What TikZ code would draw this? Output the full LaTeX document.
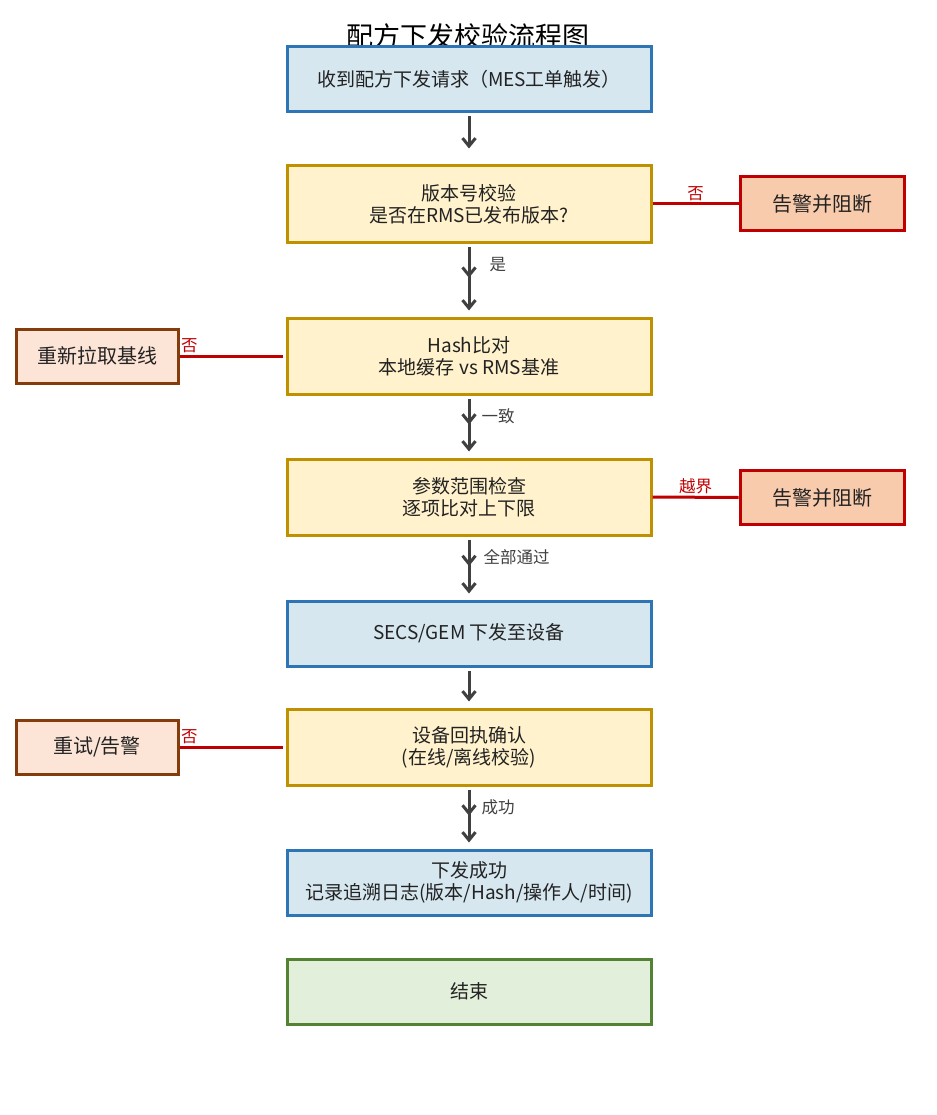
\documentclass[tikz,border=0pt]{standalone}
\usepackage{fontspec}
\setmainfont{Noto Sans CJK SC}
\usetikzlibrary{arrows.meta,decorations.markings}
\definecolor{bluefill}{HTML}{D6E7F0}
\definecolor{blueline}{HTML}{2E75B6}
\definecolor{yelfill}{HTML}{FFF2CC}
\definecolor{yelline}{HTML}{BF9000}
\definecolor{redfill}{HTML}{F8CBAD}
\definecolor{redline}{HTML}{C00000}
\definecolor{brfill}{HTML}{FCE4D6}
\definecolor{brline}{HTML}{843C0C}
\definecolor{grfill}{HTML}{E2EFDA}
\definecolor{grline}{HTML}{548235}
\definecolor{arrgray}{HTML}{404040}
\definecolor{txt}{HTML}{222222}
\tikzset{
  box/.style={draw, line width=3pt, minimum width=364pt, align=center, text=txt,
    font=\fontsize{19}{22}\selectfont, inner sep=0pt},
  bluebox/.style={box, fill=bluefill, draw=blueline, minimum height=65pt},
  yelbox/.style={box, fill=yelfill, draw=yelline, minimum height=76pt},
  greenbox/.style={box, fill=grfill, draw=grline, minimum height=65pt},
  alertbox/.style={draw=redline, fill=redfill, line width=3pt, minimum width=164pt, minimum height=54pt,
    text=txt, font=\fontsize{20}{24}\selectfont, inner sep=0pt},
  retrybox/.style={draw=brline, fill=brfill, line width=3pt, minimum width=162pt, minimum height=54pt,
    text=txt, font=\fontsize{20}{24}\selectfont, inner sep=0pt},
  flow/.style={draw=arrgray, line width=3pt, -{Straight Barb[length=8pt,width=13pt,line width=3pt]},
    shorten <=3pt, shorten >=6pt},
  midflow/.style={flow, postaction={decorate}, decoration={markings,
    mark=at position 0.47 with {\arrow[arrgray,line width=3pt]{Straight Barb[length=8pt,width=13pt,line width=3pt]}}}},
  lbl/.style={anchor=west, inner sep=0pt, text=arrgray, font=\fontsize{16.5}{18}\selectfont},
  rline/.style={draw=redline, line width=3pt},
  rlbl/.style={inner sep=0pt, text=redline, font=\fontsize{16.5}{18}\selectfont},
}
\begin{document}
\begin{tikzpicture}[x=1pt,y=-1pt]
\useasboundingbox (0,0) rectangle (936,1115);
\node[text=black, font=\fontsize{27}{30}\selectfont, inner sep=0pt] (title) at (468,36) {配方下发校验流程图};
\node[bluebox] (b1) at (469,79.5) {收到配方下发请求（MES工单触发）};
\node[yelbox] (b2) at (469,204) {版本号校验\\是否在RMS已发布版本?};
\node[yelbox] (b3) at (469,356) {Hash比对\\本地缓存 vs RMS基准};
\node[yelbox] (b4) at (469,497) {参数范围检查\\逐项比对上下限};
\node[bluebox] (b5) at (469,633.5) {SECS/GEM 下发至设备};
\node[yelbox] (b6) at (469,747) {设备回执确认\\(在线/离线校验)};
\node[bluebox] (b7) at (469,882.5) {下发成功\\记录追溯日志(版本/Hash/操作人/时间)};
\node[greenbox] (b8) at (469,991.5) {结束};
\node[alertbox] (r1) at (822,204) {告警并阻断};
\node[alertbox] (r2) at (822,497.5) {告警并阻断};
\node[retrybox] (l1) at (97,356) {重新拉取基线};
\node[retrybox] (l2) at (97,747) {重试/告警};
\draw[flow, shorten >=16pt] (b1.south) -- (b2.north);
\draw[midflow] (b2.south) -- node[lbl, pos=0.29, xshift=19pt] {是} (b3.north);
\draw[midflow] (b3.south) -- node[lbl, pos=0.34, xshift=11pt] {一致} (b4.north);
\draw[midflow] (b4.south) -- node[lbl, pos=0.33, xshift=13pt] {全部通过} (b5.north);
\draw[flow] (b5.south) -- (b6.north);
\draw[midflow] (b6.south) -- node[lbl, pos=0.34, xshift=11pt] {成功} (b7.north);
\draw[rline] (b2.east) -- node[rlbl, above=2pt] {否} (r1.west);
\draw[rline] (b4.east) -- node[rlbl, above=2pt] {越界} (r2.west);
\draw[rline, shorten <=3pt] (b3.west) -- node[rlbl, pos=1, anchor=south west, xshift=0pt, yshift=2pt] {否} (l1.east);
\draw[rline, shorten <=3pt] (b6.west) -- node[rlbl, pos=1, anchor=south west, xshift=0pt, yshift=2pt] {否} (l2.east);
\end{tikzpicture}
\end{document}
